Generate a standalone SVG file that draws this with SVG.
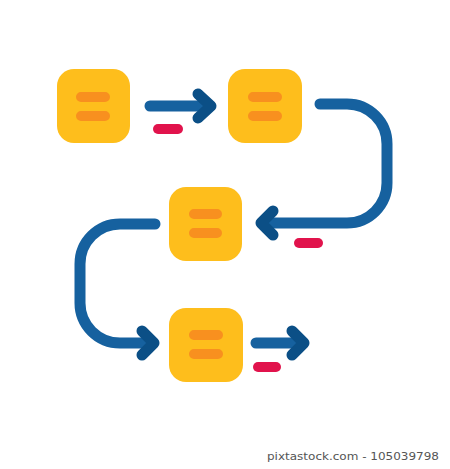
<svg xmlns="http://www.w3.org/2000/svg" width="450" height="469" viewBox="0 0 450 469">
<style>
.box{fill:#FEBE1C}
.bar{stroke:#F8901F;stroke-width:10;stroke-linecap:round;fill:none}
.line{stroke:#16619F;stroke-width:11;stroke-linecap:round;stroke-linejoin:round;fill:none}
.head{stroke:#0B4F86;stroke-width:11;stroke-linecap:round;stroke-linejoin:round;fill:none}
.minus{stroke:#E1134C;stroke-width:10;stroke-linecap:round;fill:none}
.cap{font-family:"DejaVu Sans",sans-serif;font-size:11px;fill:#555}
</style>
<rect width="450" height="469" fill="#fff"/>
<g id="connectors">
  <path class="line" d="M150 106 H210"/>
  <path class="head" d="M198 94 L211 106 L198 118"/>
  <path class="minus" d="M158 129 H178"/>
  <path class="line" d="M320 104 H347 A40 40 0 0 1 387 144 V183 A40 40 0 0 1 347 223 H264"/>
  <path class="head" d="M273 211 L261 223 L273 235"/>
  <path class="minus" d="M299 243 H318"/>
  <path class="line" d="M155 224 H120 A40 40 0 0 0 80 264 V303 A40 40 0 0 0 120 343 H152"/>
  <path class="head" d="M142 331 L154 343 L142 355"/>
  <path class="line" d="M256 343 H302"/>
  <path class="head" d="M292 331 L304 343 L292 355"/>
  <path class="minus" d="M258 367 H276"/>
</g>
<g id="node1">
  <rect class="box" x="57" y="69" width="73" height="74" rx="17"/>
  <path class="bar" d="M81 97 H105 M81 116 H105"/>
</g>
<g id="node2">
  <rect class="box" x="228" y="69" width="74" height="74" rx="17"/>
  <path class="bar" d="M253 97 H277 M253 116 H277"/>
</g>
<g id="node3">
  <rect class="box" x="169" y="187" width="73" height="74" rx="17"/>
  <path class="bar" d="M194 214 H217 M194 233 H217"/>
</g>
<g id="node4">
  <rect class="box" x="169" y="308" width="74" height="74" rx="17"/>
  <path class="bar" d="M194 335 H218 M194 354 H218"/>
</g>
<text class="cap" x="267" y="460" textLength="172" lengthAdjust="spacingAndGlyphs">pixtastock.com - 105039798</text>
</svg>
